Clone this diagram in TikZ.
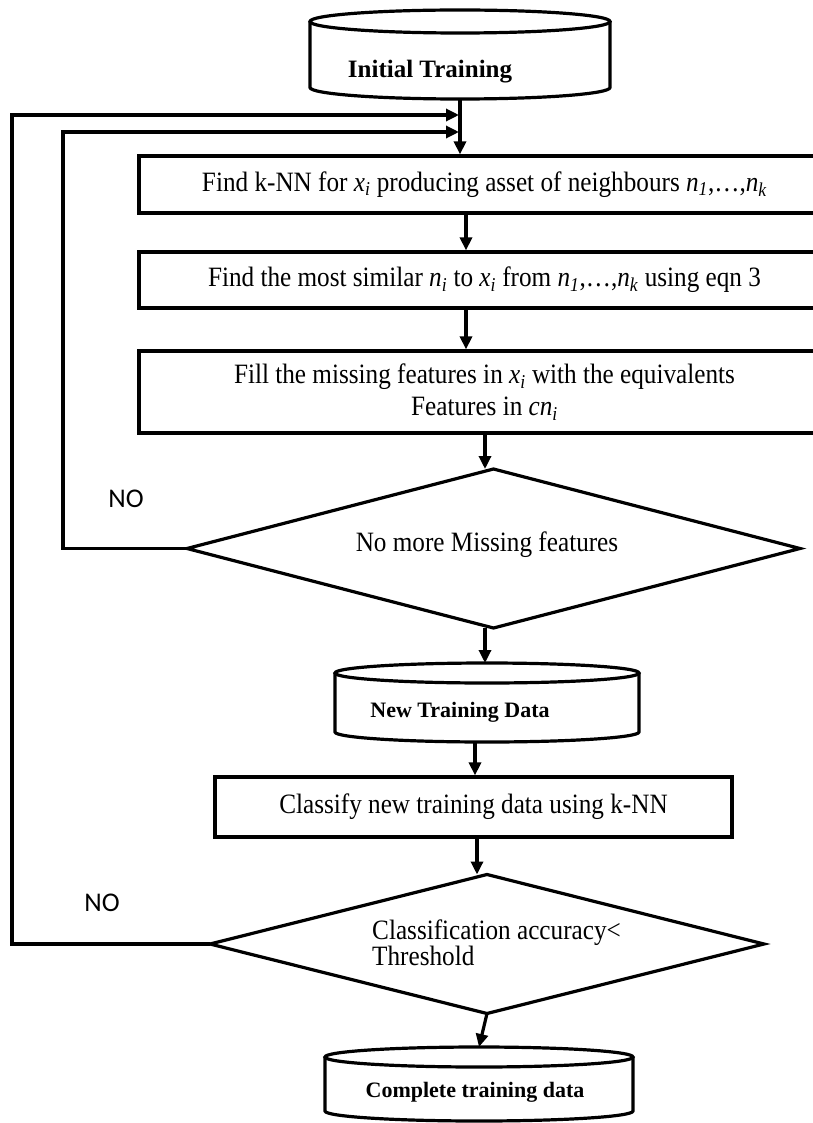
\documentclass[tikz,border=0pt]{standalone}
\usepackage{fontspec}
\setmainfont{Liberation Serif}
\newfontfamily\bodyfont[FakeStretch=0.9]{Liberation Serif}
\newfontfamily\nofont{Carlito}
\usetikzlibrary{arrows.meta,calc}

\newcommand\fsz[2]{\fontsize{#1}{#2}\selectfont}
% italic variable with italic subscript
\newcommand\var[2]{\textit{#1}\textsubscript{\textit{#2}}}

% data store drum: name, centre x, top y, bottom y, x radius, y radius (y measured downwards)
\newcommand\drum[6]{%
  \draw[line] (#2-#5,-#3-#6) -- (#2-#5,-#4+#6)
     arc[start angle=180,end angle=360,x radius=#5,y radius=#6]
     -- (#2+#5,-#3-#6);
  \draw[line] (#2,-#3-#6) ellipse[x radius=#5,y radius=#6];
  \coordinate (#1-top) at (#2,-#3);
  \coordinate (#1-bot) at (#2,-#4);
}

% decision diamond: name, centre x, centre y (downwards), half width, half height
\newcommand\decision[5]{%
  \coordinate (#1-n) at (#2,-#3+#5);
  \coordinate (#1-s) at (#2,-#3-#5);
  \coordinate (#1-w) at (#2-#4,-#3);
  \coordinate (#1-e) at (#2+#4,-#3);
  \draw[line,line join=miter] (#1-n) -- (#1-e) -- (#1-s) -- (#1-w) -- cycle;
}

\begin{document}
\begin{tikzpicture}[x=1pt,y=1pt,
  line/.style={line width=3.2pt},
  arrow/.style={line,-{Triangle[length=13pt,width=12pt]}},
  box/.style={line,draw,rectangle,inner sep=0pt,font=\bodyfont\fsz{28}{32}},
  plain/.style={font=\bodyfont\fsz{28}{25},inner sep=0pt},
  drumtext/.style={font=\bfseries\fsz{22}{26}},
  nolabel/.style={font=\nofont\fsz{27}{30}}]

\path[use as bounding box,fill=white] (0,0) rectangle (812,-1123);

% stores
\drum{c1}{460}{10}{99}{150}{11.5}
\node[font=\bfseries\fsz{25}{28}] (t1) at (430,-72) {Initial Training};

\drum{c2}{487}{663}{742}{152}{10}
\node[drumtext] (t2) at (460,-712) {New Training Data};

\drum{c3}{479}{1047}{1121}{154}{10}
\node[drumtext] (t3) at (475,-1092) {Complete training data};

% process steps
\node[box,minimum width=691pt,minimum height=57pt] (b1) at (484.5,-184.5)
  {Find k-NN for \var{x}{i} producing asset of neighbours \var{n}{1},…,\var{n}{k}};
\node[box,minimum width=691pt,minimum height=56pt] (b2) at (484.5,-280)
  {Find the most similar \var{n}{i} to \var{x}{i} from \var{n}{1},…,\var{n}{k} using eqn 3};
\node[box,minimum width=691pt,minimum height=82pt,align=center] (b3) at (484.5,-392)
  {Fill the missing features in \var{x}{i} with the equivalents\\Features in \var{cn}{i}};
\node[box,minimum width=517pt,minimum height=60pt] (b4) at (473.5,-807)
  {Classify new training data using k-NN};

% decisions
\decision{d1}{493.5}{548.5}{306.5}{79.5}
\node[plain] (q1) at (487,-545) {No more Missing features};
\decision{d2}{487}{944}{277}{69.5}
\node[plain,align=left,anchor=west] (q2) at (372,-943)
  {Classification accuracy<\\Threshold};

\node[nolabel] (no1) at (126,-499) {NO};
\node[nolabel] (no2) at (102,-903) {NO};

% main flow
\coordinate (xb) at (466,0);
\coordinate (xc) at (485,0);
\coordinate (xd) at (475,0);
\coordinate (xe) at (477,0);
\draw[arrow] (c1-bot) -- (c1-bot |- b1.north);
\draw[arrow] (b1.south -| xb) -- (b2.north -| xb);
\draw[arrow] (b2.south -| xb) -- (b3.north -| xb);
\draw[arrow] (b3.south -| xc) -- (d1-n -| xc);
\draw[arrow] (d1-s -| xc) -- (c2-top -| xc);
\draw[arrow] (c2-bot -| xd) -- (b4.north -| xd);
\draw[arrow] (b4.south -| xe) -- (d2-n -| xe);
\draw[arrow] (d2-s) -- (c3-top);

% feedback loops
\coordinate (innerL) at (63,-132);
\coordinate (innerT) at (459,-132);
\coordinate (outerL) at (12,-115);
\coordinate (outerT) at (459,-115);
\draw[arrow] (d1-w) -| (innerL) -- (innerT);
\draw[arrow] (d2-w) -| (outerL) -- (outerT);
\end{tikzpicture}
\end{document}
